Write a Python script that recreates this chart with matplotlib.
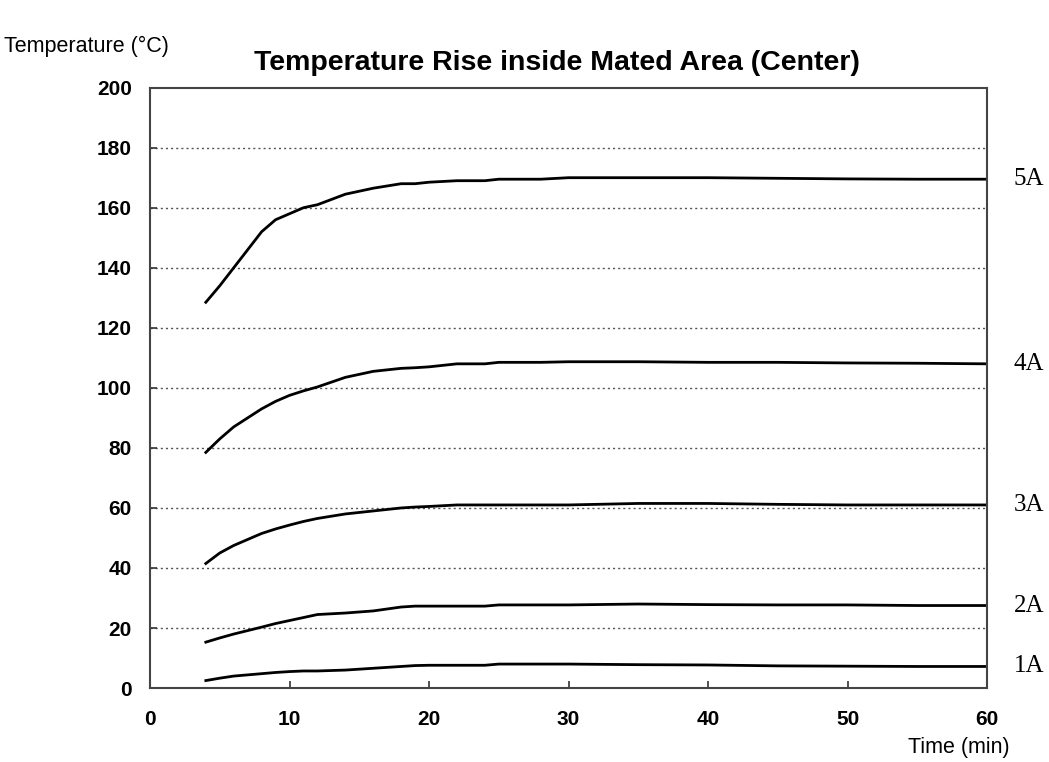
import numpy as np
import matplotlib
matplotlib.use('Agg')
import matplotlib.pyplot as plt

# time in minutes and temperature rise
time_min = [4, 5, 6, 8, 9, 10, 11, 12, 14, 16, 18, 19, 20, 22, 24, 25, 28, 30, 35, 40, 45, 50, 55, 60]
temp_5a = [128.5, 134, 140, 152, 156, 158, 160, 161, 164.5, 166.5, 168, 168, 168.5, 169, 169, 169.5, 169.5, 170, 170, 170, 169.8, 169.6, 169.5, 169.5]
temp_4a = [78.5, 83, 87, 93, 95.5, 97.5, 99, 100.3, 103.5, 105.5, 106.5, 106.7, 107, 108, 108, 108.5, 108.5, 108.7, 108.7, 108.5, 108.5, 108.3, 108.2, 108]
temp_3a = [41.5, 45, 47.5, 51.5, 53, 54.3, 55.5, 56.5, 58, 59, 60, 60.3, 60.5, 61, 61, 61, 61, 61, 61.5, 61.5, 61.2, 61, 61, 61]
temp_2a = [15.3, 16.7, 18, 20.3, 21.5, 22.5, 23.5, 24.5, 25, 25.7, 27, 27.3, 27.3, 27.3, 27.3, 27.7, 27.7, 27.7, 28, 27.8, 27.7, 27.7, 27.5, 27.5]
temp_1a = [2.5, 3.3, 4, 4.8, 5.2, 5.5, 5.7, 5.7, 6, 6.6, 7.2, 7.5, 7.6, 7.6, 7.6, 8, 8, 8, 7.8, 7.7, 7.4, 7.3, 7.2, 7.2]

series = [('5A', temp_5a), ('4A', temp_4a), ('3A', temp_3a), ('2A', temp_2a), ('1A', temp_1a)]

x_ticks = [0, 10, 20, 30, 40, 50, 60]
y_ticks = [0, 20, 40, 60, 80, 100, 120, 140, 160, 180, 200]

fig = plt.figure(figsize=(10.49, 7.62), dpi=100)
ax = fig.add_axes([0.143, 0.097, 0.798, 0.788])

for name, vals in series:
    ax.plot(time_min, vals, color='black', linewidth=2.0)
    ax.text(61.9, vals[-1], name, fontsize=18, family='Liberation Serif',
            va='center', ha='left', clip_on=False)

ax.set_xlim(0, 60)
ax.set_ylim(0, 200)
ax.set_xticks(x_ticks)
ax.set_yticks(y_ticks)
for yv in y_ticks[1:-1]:
    ax.axhline(yv, color='#555555', linewidth=1.0, linestyle=(0, (1.5, 2.2)), zorder=0)

ax.tick_params(axis='both', direction='in', length=5, width=1.2, color='#333333',
               labelsize=15, pad=13)
ax.tick_params(axis='x', pad=16)
for lbl in ax.get_xticklabels() + ax.get_yticklabels():
    lbl.set_fontweight('bold')
    lbl.set_family('Liberation Sans')
for sp in ax.spines.values():
    sp.set_linewidth(1.5)
    sp.set_color('#444444')

fig.text(0.531, 0.917, 'Temperature Rise inside Mated Area (Center)', ha='center', va='center',
         fontsize=20.5, fontweight='bold', family='Liberation Sans')
fig.text(0.004, 0.939, 'Temperature (°C)', ha='left', va='center', fontsize=15.5, family='Liberation Sans')
fig.text(0.962, 0.019, 'Time (min)', ha='right', va='center', fontsize=15.5, family='Liberation Sans')

fig.savefig('out.png', dpi=100)
